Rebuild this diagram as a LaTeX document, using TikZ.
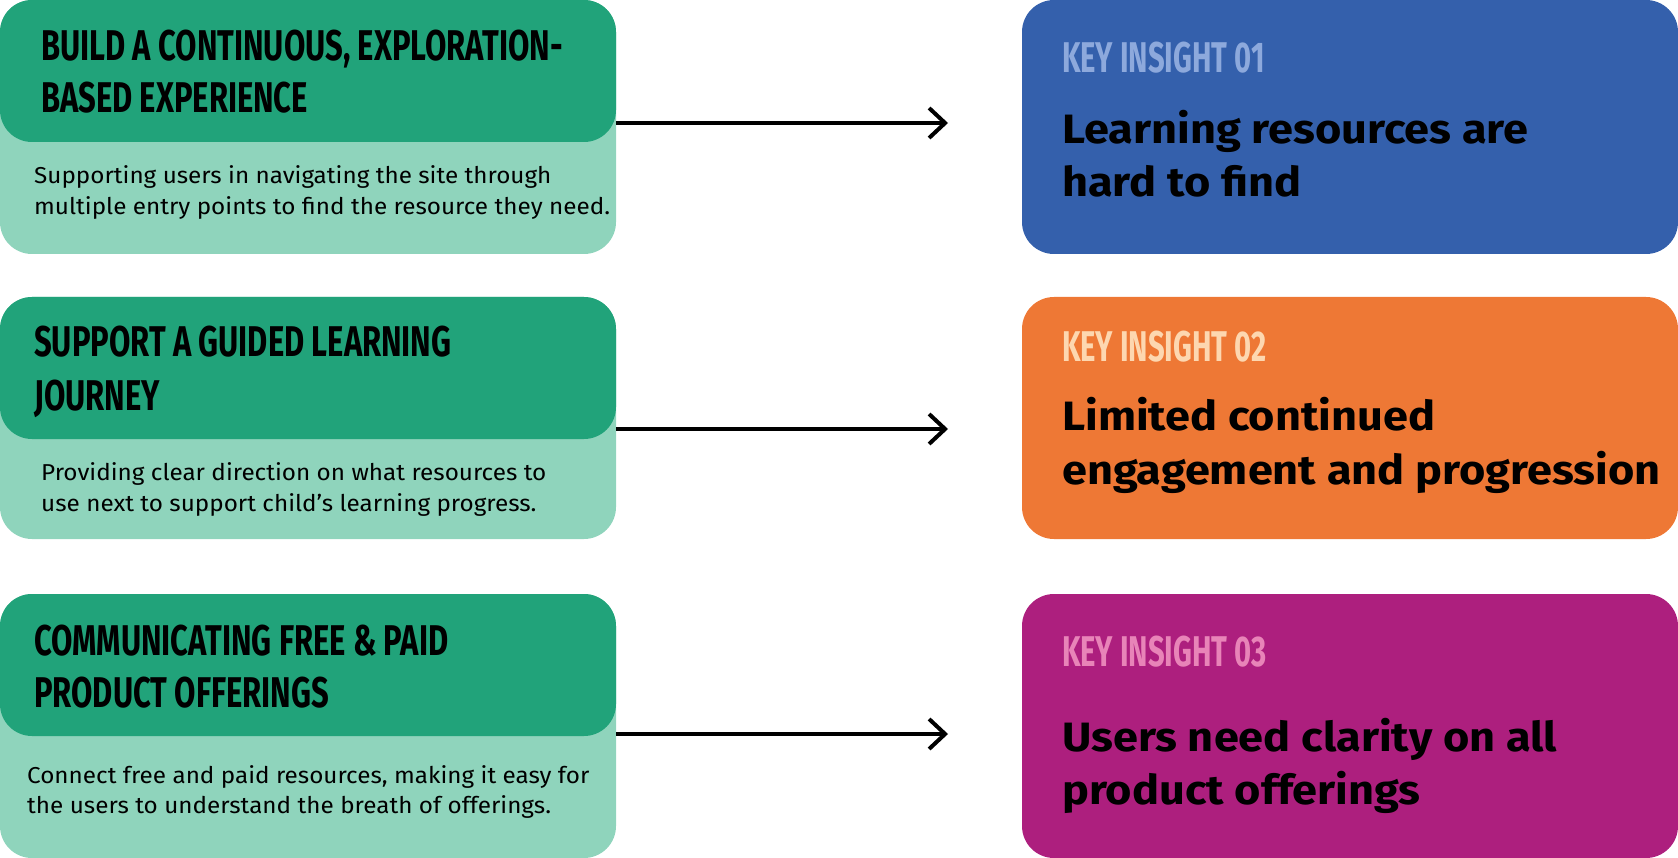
\documentclass[tikz,border=0pt]{standalone}
\usepackage{fontspec}
\setmainfont{Fira Sans}
\newfontfamily\headfont[FakeStretch=0.72]{Fira Sans}
\newfontfamily\labelfont[FakeStretch=0.68]{Fira Sans}
\newfontfamily\bodyfont[FakeStretch=1.055]{Fira Sans}
\newfontfamily\insightfont[FakeStretch=1.1]{Fira Sans}
\usetikzlibrary{arrows.meta}
\definecolor{gdark}{HTML}{21A37A}
\definecolor{glight}{HTML}{8FD4BC}
\definecolor{kblue}{HTML}{3460AC}
\definecolor{korange}{HTML}{EE7835}
\definecolor{kmag}{HTML}{AD1F7E}
\definecolor{lblue}{HTML}{8DA9DC}
\definecolor{lpeach}{HTML}{FDD7B0}
\definecolor{lpink}{HTML}{E884B8}
\begin{document}
\begin{tikzpicture}[x=1pt,y=-1pt,
  card/.style={rounded corners=32pt, inner sep=0pt, outer sep=0pt, anchor=north west},
  lightcard/.style={card, fill=glight, minimum width=616pt, minimum height=#1},
  hdrcard/.style={card, fill=gdark, minimum width=616pt, minimum height=#1},
  keycard/.style={card, fill=#1, minimum width=656pt},
  hdrtext/.style={font=\headfont\bfseries\fontsize{43}{52}\selectfont, anchor=base west, inner sep=0pt},
  bodytext/.style={font=\bodyfont\fontsize{23}{31}\selectfont, anchor=base west, inner sep=0pt},
  keylabel/.style={font=\labelfont\bfseries\fontsize{43}{52}\selectfont, text=#1, anchor=base west, inner sep=0pt},
  keytext/.style={font=\insightfont\bfseries\fontsize{41}{52}\selectfont, anchor=base west, inner sep=0pt},
  link/.style={line width=4pt, -{Straight Barb[length=16pt, width=30pt, line width=4pt]}}]
\useasboundingbox (0,0) rectangle (1678,858);

% left cards
\node[lightcard=254pt] (g1) at (0,0) {};
\node[hdrcard=142pt] (h1) at (0,0) {};
\node[lightcard=242pt] (g2) at (0,297) {};
\node[hdrcard=142pt] (h2) at (0,297) {};
\node[lightcard=264pt] (g3) at (0,594) {};
\node[hdrcard=142pt] (h3) at (0,594) {};

\node[hdrtext] (h1a) at (41,61) {BUILD A CONTINUOUS, EXPLORATION-};
\node[hdrtext] (h1b) at (41,113) {BASED EXPERIENCE};
\node[bodytext] (b1a) at (34,184) {Supporting users in navigating the site through};
\node[bodytext] (b1b) at (34,215) {multiple entry points to find the resource they need.};

\node[hdrtext] (h2a) at (34,357) {SUPPORT A GUIDED LEARNING};
\node[hdrtext] (h2b) at (34,410) {JOURNEY};
\node[bodytext] (b2a) at (41,480) {Providing clear direction on what resources to};
\node[bodytext] (b2b) at (41,511) {use next to support child’s learning progress.};

\node[hdrtext] (h3a) at (34,655) {COMMUNICATING FREE \& PAID};
\node[hdrtext] (h3b) at (34,707) {PRODUCT OFFERINGS};
\node[bodytext] (b3a) at (27,783) {Connect free and paid resources, making it easy for};
\node[bodytext] (b3b) at (27,813) {the users to understand the breath of offerings.};

% right cards
\node[keycard=kblue, minimum height=254pt] (k1) at (1022,0) {};
\node[keycard=korange, minimum height=242pt] (k2) at (1022,297) {};
\node[keycard=kmag, minimum height=264pt] (k3) at (1022,594) {};

\node[keylabel=lblue] (k1l) at (1062,73) {KEY INSIGHT 01};
\node[keytext] (k1a) at (1062,144) {Learning resources are};
\node[keytext] (k1b) at (1062,197) {hard to find};

\node[keylabel=lpeach] (k2l) at (1062,362) {KEY INSIGHT 02};
\node[keytext] (k2a) at (1062,430) {Limited continued};
\node[keytext] (k2b) at (1062,484) {engagement and progression};

\node[keylabel=lpink] (k3l) at (1062,666) {KEY INSIGHT 03};
\node[keytext] (k3a) at (1062,751) {Users need clarity on all};
\node[keytext] (k3b) at (1062,804) {product offerings};

% arrows
\coordinate (e1) at (948,123);
\coordinate (e2) at (948,429);
\coordinate (e3) at (948,734);
\draw[link] (g1.east |- e1) -- (e1);
\draw[link] (g2.east |- e2) -- (e2);
\draw[link] (g3.east |- e3) -- (e3);
\end{tikzpicture}
\end{document}
